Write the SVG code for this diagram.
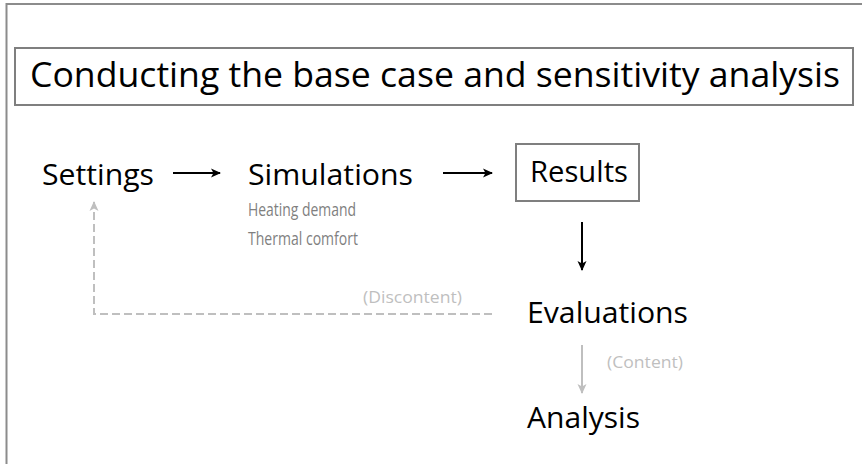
<svg xmlns="http://www.w3.org/2000/svg" width="862" height="464" viewBox="0 0 862 464">
  <defs>
    <style>
      text { font-family: "Open Sans", "Liberation Sans", sans-serif; }
      .big { font-size: 30px; fill: #000; }
      .sub { font-size: 18px; fill: #7f7f7f; }
      .note { font-size: 17px; fill: #bfbfbf; }
      .box { fill: #fff; stroke: #7f7f7f; stroke-width: 2; }
      .blk { stroke: #000; stroke-width: 2; fill: none; }
      .gry { stroke: #bfbfbf; stroke-width: 2; fill: none; }
    </style>
    <marker id="ah" markerWidth="12" markerHeight="12" refX="10" refY="6" orient="auto" markerUnits="userSpaceOnUse">
      <path d="M1,1.5 L11,6 L1,10.5 L3.5,6 Z" fill="#000"/>
    </marker>
    <marker id="ahg" markerWidth="12" markerHeight="12" refX="10" refY="6" orient="auto" markerUnits="userSpaceOnUse">
      <path d="M1,1.5 L11,6 L1,10.5 L3.5,6 Z" fill="#bfbfbf"/>
    </marker>
  </defs>
  <rect x="0" y="0" width="862" height="464" fill="#fff"/>
  <rect x="6.5" y="4" width="900" height="500" fill="none" stroke="#8c8c8c" stroke-width="2"/>

  <g id="title">
    <rect class="box" x="15" y="48" width="838" height="57"/>
    <text x="30" y="87" font-size="34" textLength="810" lengthAdjust="spacingAndGlyphs">Conducting the base case and sensitivity analysis</text>
  </g>

  <g id="settings">
    <text class="big" x="42" y="185" textLength="112" lengthAdjust="spacingAndGlyphs">Settings</text>
  </g>

  <g id="simulations">
    <text class="big" x="248" y="185" textLength="165" lengthAdjust="spacingAndGlyphs">Simulations</text>
    <text class="sub" x="248" y="216" textLength="108" lengthAdjust="spacingAndGlyphs">Heating demand</text>
    <text class="sub" x="248" y="245" textLength="110" lengthAdjust="spacingAndGlyphs">Thermal comfort</text>
  </g>

  <g id="results">
    <rect class="box" x="516" y="144" width="123" height="57"/>
    <text class="big" x="530" y="182" textLength="98" lengthAdjust="spacingAndGlyphs">Results</text>
  </g>

  <g id="evaluations">
    <text class="big" x="527" y="323" textLength="161" lengthAdjust="spacingAndGlyphs">Evaluations</text>
  </g>

  <g id="analysis">
    <text class="big" x="527" y="428" textLength="113" lengthAdjust="spacingAndGlyphs">Analysis</text>
  </g>

  <g id="connectors">
    <line class="blk" x1="173" y1="173" x2="220" y2="173" marker-end="url(#ah)"/>
    <line class="blk" x1="443" y1="173" x2="492" y2="173" marker-end="url(#ah)"/>
    <line class="blk" x1="582" y1="222" x2="582" y2="270" marker-end="url(#ah)"/>
    <line class="gry" x1="582" y1="345" x2="582" y2="393" marker-end="url(#ahg)"/>
    <polyline class="gry" points="492,314 94,314 94,202" stroke-dasharray="8,4" marker-end="url(#ahg)"/>
    <text class="note" x="363" y="303" textLength="99" lengthAdjust="spacingAndGlyphs">(Discontent)</text>
    <text class="note" x="607" y="368" textLength="76" lengthAdjust="spacingAndGlyphs">(Content)</text>
  </g>
</svg>
